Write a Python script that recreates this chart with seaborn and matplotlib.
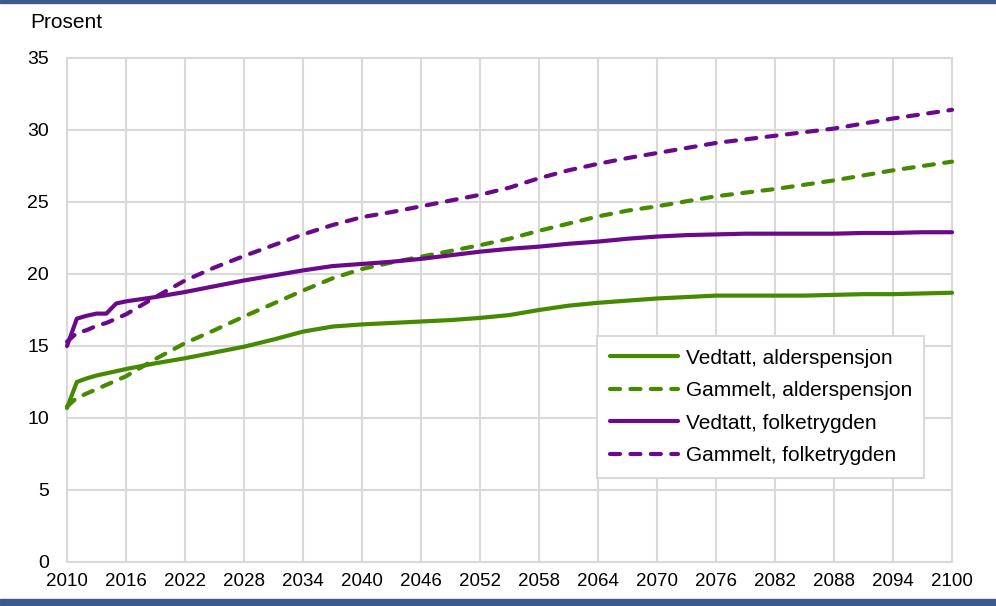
import matplotlib
matplotlib.use("Agg")
import matplotlib.pyplot as plt
from matplotlib.patches import Rectangle
import seaborn as sns
import pandas as pd

years = [2010, 2011, 2012, 2013, 2014, 2015, 2016, 2019, 2022, 2025, 2028, 2031,
         2034, 2037, 2040, 2043, 2046, 2049, 2052, 2055, 2058, 2061, 2064, 2067,
         2070, 2073, 2076, 2079, 2082, 2085, 2088, 2091, 2094, 2097, 2100]

vedtatt_alders = [10.7, 12.5, 12.75, 12.95, 13.1, 13.25, 13.4, 13.8, 14.15, 14.55, 14.95, 15.45,
                  16.0, 16.35, 16.5, 16.6, 16.7, 16.8, 16.95, 17.15, 17.5, 17.8, 18.0, 18.15,
                  18.3, 18.4, 18.5, 18.5, 18.5, 18.5, 18.55, 18.6, 18.6, 18.65, 18.7]

gammelt_alders = [10.8, 11.4, 11.7, 12.0, 12.3, 12.6, 12.9, 14.1, 15.2, 16.1, 17.05, 17.95,
                  18.85, 19.7, 20.35, 20.8, 21.2, 21.6, 22.0, 22.45, 23.0, 23.5, 24.0, 24.4,
                  24.7, 25.05, 25.4, 25.65, 25.9, 26.2, 26.5, 26.85, 27.2, 27.5, 27.8]

vedtatt_folke = [15.0, 16.9, 17.1, 17.25, 17.25, 17.95, 18.1, 18.4, 18.75, 19.15, 19.55, 19.9,
                 20.25, 20.55, 20.7, 20.85, 21.05, 21.3, 21.55, 21.75, 21.9, 22.1, 22.25, 22.45,
                 22.6, 22.7, 22.75, 22.8, 22.8, 22.8, 22.8, 22.85, 22.85, 22.9, 22.9]

gammelt_folke = [15.3, 15.9, 16.1, 16.4, 16.6, 16.9, 17.2, 18.4, 19.55, 20.45, 21.25, 22.0,
                 22.75, 23.4, 23.95, 24.3, 24.7, 25.1, 25.5, 26.0, 26.65, 27.2, 27.65, 28.05,
                 28.4, 28.75, 29.1, 29.35, 29.6, 29.85, 30.1, 30.45, 30.8, 31.1, 31.4]

labels = ["Vedtatt, alderspensjon", "Gammelt, alderspensjon",
          "Vedtatt, folketrygden", "Gammelt, folketrygden"]
x_ticks = list(range(2010, 2101, 6))
y_ticks = list(range(0, 36, 5))

GREEN = "#458A00"
PURPLE = "#6A0A8A"
GRID = "#D9D9D9"
BAR = "#3E5A8C"
LW = 3.0
DASH = (2.4, 2.5)

series = [vedtatt_alders, gammelt_alders, vedtatt_folke, gammelt_folke]
df = pd.concat([pd.DataFrame({"year": years, "value": v, "series": lab})
                for v, lab in zip(series, labels)], ignore_index=True)

sns.set_theme(style="white")
plt.rcParams["font.family"] = ["Liberation Sans", "DejaVu Sans"]
plt.rcParams["text.color"] = "black"

W, H = 996, 606
fig = plt.figure(figsize=(W / 100, H / 100), dpi=100)
ax = fig.add_axes([67 / W, (H - 562) / H, (952 - 67) / W, (562 - 58) / H])

palette = {labels[0]: GREEN, labels[1]: GREEN, labels[2]: PURPLE, labels[3]: PURPLE}
dashes = {labels[0]: "", labels[1]: DASH, labels[2]: "", labels[3]: DASH}
sns.lineplot(data=df, x="year", y="value", hue="series", style="series",
             palette=palette, dashes=dashes, hue_order=labels, style_order=labels,
             linewidth=LW, ax=ax, legend=True, zorder=3)

ax.set_xlim(2010, 2100)
ax.set_ylim(0, 35)
ax.set_xticks(x_ticks)
ax.set_yticks(y_ticks)
ax.set_xlabel("")
ax.set_ylabel("")
ax.grid(True, color=GRID, linewidth=1.5)
ax.set_axisbelow(True)
for sp in ax.spines.values():
    sp.set_visible(True)
    sp.set_color(GRID)
    sp.set_linewidth(1.5)
ax.tick_params(axis="x", length=0, pad=8, labelsize=13.5, labelcolor="black")
ax.tick_params(axis="y", length=0, pad=13, labelsize=14, labelcolor="black")

handles, labs = ax.get_legend_handles_labels()
dash_map = {labels[0]: None, labels[1]: DASH, labels[2]: None, labels[3]: DASH}
for ln, lab in zip(ax.get_lines(), labels):
    ln.set_linewidth(LW)
    if dash_map[lab] is not None:
        ln.set_dashes(dash_map[lab])
    ln.set_dash_capstyle("round")
    ln.set_solid_capstyle("round")
    ln.set_solid_joinstyle("round")
    ln.set_clip_on(False)
for h, lab in zip(handles, labs):
    h.set_linewidth(LW)
    if dash_map.get(lab) is not None:
        h.set_dashes(dash_map[lab])
    h.set_dash_capstyle("round")
    h.set_solid_capstyle("round")

leg = ax.legend(handles, labs, loc="upper left",
                bbox_to_anchor=(597 / W, 1 - 336 / H), bbox_transform=fig.transFigure,
                borderaxespad=0, frameon=True, fancybox=False, fontsize=15,
                handlelength=3.3, handletextpad=0.35, labelspacing=0.65,
                borderpad=0.6, labelcolor="black")
leg.get_frame().set_edgecolor(GRID)
leg.get_frame().set_linewidth(1.5)
leg.get_frame().set_facecolor("white")
leg.get_frame().set_alpha(1)
leg.set_zorder(5)

fig.text(30 / W, 1 - 22 / H, "Prosent", fontsize=15, va="center", ha="left",
         color="black")

fig.patches.append(Rectangle((0, 1 - 3 / H), 1, 3 / H, transform=fig.transFigure,
                             color=BAR, zorder=0))
fig.patches.append(Rectangle((0, 1 / H), 1, 6 / H, transform=fig.transFigure,
                             color=BAR, zorder=0))

fig.savefig("out.png", dpi=100)
